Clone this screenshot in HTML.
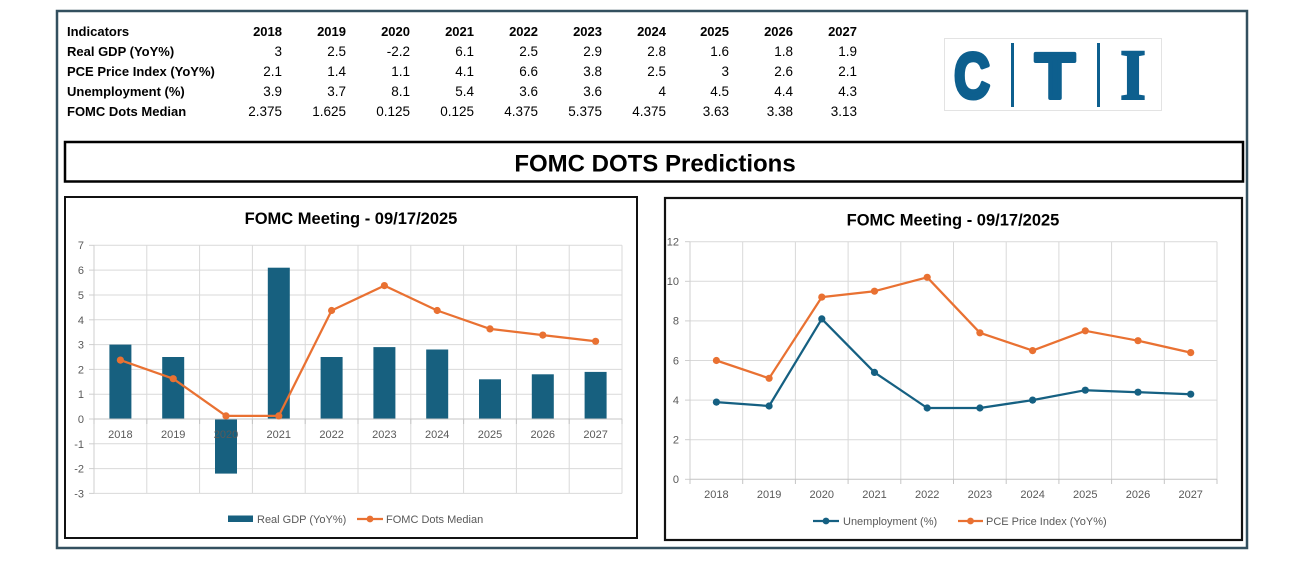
<!DOCTYPE html>
<html>
<head>
<meta charset="utf-8">
<style>
  html,body{margin:0;padding:0;background:#fff;}
  svg{display:block;}
  text{font-family:"Liberation Sans",Arial,sans-serif;}
  .hb{font-weight:bold;font-size:13px;fill:#000;}
  .nv{font-size:13.5px;fill:#000;}
  .ax{font-size:11px;fill:#595959;}
  .lg{font-size:11px;fill:#595959;}
  .tt{font-weight:bold;font-size:16.5px;fill:#000;}
  .grid{stroke:#d9d9d9;stroke-width:1;fill:none;}
</style>
</head>
<body>
<svg width="1310" height="583" viewBox="0 0 1310 583" xmlns="http://www.w3.org/2000/svg">
  <rect x="0" y="0" width="1310" height="583" fill="#fff"/>
  <!-- outer frame -->
  <rect x="57" y="11" width="1190" height="537" fill="none" stroke="#33505f" stroke-width="2.5"/>

  <!-- table -->
  <g>
    <text class="hb" x="67" y="36">Indicators</text>
    <text class="hb" x="67" y="56">Real GDP (YoY%)</text>
    <text class="hb" x="67" y="76">PCE Price Index (YoY%)</text>
    <text class="hb" x="67" y="96">Unemployment (%)</text>
    <text class="hb" x="67" y="116">FOMC Dots Median</text>
    <g text-anchor="end" class="hb">
      <text x="282" y="36">2018</text><text x="346" y="36">2019</text><text x="410" y="36">2020</text><text x="474" y="36">2021</text><text x="538" y="36">2022</text><text x="602" y="36">2023</text><text x="666" y="36">2024</text><text x="729" y="36">2025</text><text x="793" y="36">2026</text><text x="857" y="36">2027</text>
    </g>
    <g text-anchor="end" class="nv">
      <text x="282" y="56">3</text><text x="346" y="56">2.5</text><text x="410" y="56">-2.2</text><text x="474" y="56">6.1</text><text x="538" y="56">2.5</text><text x="602" y="56">2.9</text><text x="666" y="56">2.8</text><text x="729" y="56">1.6</text><text x="793" y="56">1.8</text><text x="857" y="56">1.9</text>
      <text x="282" y="76">2.1</text><text x="346" y="76">1.4</text><text x="410" y="76">1.1</text><text x="474" y="76">4.1</text><text x="538" y="76">6.6</text><text x="602" y="76">3.8</text><text x="666" y="76">2.5</text><text x="729" y="76">3</text><text x="793" y="76">2.6</text><text x="857" y="76">2.1</text>
      <text x="282" y="96">3.9</text><text x="346" y="96">3.7</text><text x="410" y="96">8.1</text><text x="474" y="96">5.4</text><text x="538" y="96">3.6</text><text x="602" y="96">3.6</text><text x="666" y="96">4</text><text x="729" y="96">4.5</text><text x="793" y="96">4.4</text><text x="857" y="96">4.3</text>
      <text x="282" y="116">2.375</text><text x="346" y="116">1.625</text><text x="410" y="116">0.125</text><text x="474" y="116">0.125</text><text x="538" y="116">4.375</text><text x="602" y="116">5.375</text><text x="666" y="116">4.375</text><text x="729" y="116">3.63</text><text x="793" y="116">3.38</text><text x="857" y="116">3.13</text>
    </g>
  </g>

  <!-- logo -->
  <rect x="944.5" y="38.5" width="217" height="72" fill="#fff" stroke="#e3e3e3" stroke-width="1"/>
  <text x="954" y="98" font-size="64" font-weight="bold" fill="#0d5f8e" stroke="#0d5f8e" stroke-width="4" stroke-linejoin="round" textLength="36" lengthAdjust="spacingAndGlyphs">C</text>
  <rect x="1011" y="43" width="3" height="64" fill="#0d5f8e"/>
  <text x="1035" y="98" font-size="64" font-weight="bold" fill="#0d5f8e" stroke="#0d5f8e" stroke-width="4" stroke-linejoin="round" textLength="40" lengthAdjust="spacingAndGlyphs">T</text>
  <rect x="1097" y="43" width="3" height="64" fill="#0d5f8e"/>
  <text x="1120" y="99" font-size="72" font-weight="bold" fill="#0d5f8e" stroke="#0d5f8e" stroke-width="2" style="font-family:'Liberation Serif',serif" textLength="26" lengthAdjust="spacingAndGlyphs">I</text>

  <!-- banner -->
  <rect x="65" y="142" width="1178" height="39.5" fill="#fff" stroke="#000" stroke-width="2.5"/>
  <text x="655" y="171.5" text-anchor="middle" font-size="24" font-weight="bold" fill="#000">FOMC DOTS Predictions</text>

  <!-- chart 1 -->
  <rect x="65" y="197" width="572" height="341" fill="#fff" stroke="#111" stroke-width="2"/>
  <text class="tt" x="351" y="224" text-anchor="middle">FOMC Meeting - 09/17/2025</text>
  <g class="grid">
    <line x1="94" y1="245.3" x2="622" y2="245.3"/>
    <line x1="94" y1="270.1" x2="622" y2="270.1"/>
    <line x1="94" y1="295" x2="622" y2="295"/>
    <line x1="94" y1="319.8" x2="622" y2="319.8"/>
    <line x1="94" y1="344.6" x2="622" y2="344.6"/>
    <line x1="94" y1="369.4" x2="622" y2="369.4"/>
    <line x1="94" y1="394.2" x2="622" y2="394.2"/>
    <line x1="94" y1="443.8" x2="622" y2="443.8"/>
    <line x1="94" y1="468.6" x2="622" y2="468.6"/>
    <line x1="94" y1="493.4" x2="622" y2="493.4"/>
    <line x1="146.8" y1="245.3" x2="146.8" y2="493.4"/>
    <line x1="199.6" y1="245.3" x2="199.6" y2="493.4"/>
    <line x1="252.4" y1="245.3" x2="252.4" y2="493.4"/>
    <line x1="305.2" y1="245.3" x2="305.2" y2="493.4"/>
    <line x1="358" y1="245.3" x2="358" y2="493.4"/>
    <line x1="410.8" y1="245.3" x2="410.8" y2="493.4"/>
    <line x1="463.6" y1="245.3" x2="463.6" y2="493.4"/>
    <line x1="516.4" y1="245.3" x2="516.4" y2="493.4"/>
    <line x1="569.2" y1="245.3" x2="569.2" y2="493.4"/>
    <line x1="622" y1="245.3" x2="622" y2="493.4"/>
  </g>
  <g stroke="#cfcfcf" stroke-width="1">
    <line x1="94" y1="245.3" x2="94" y2="493.4"/>
    <line x1="89" y1="245.3" x2="94" y2="245.3"/><line x1="89" y1="270.1" x2="94" y2="270.1"/><line x1="89" y1="295" x2="94" y2="295"/><line x1="89" y1="319.8" x2="94" y2="319.8"/><line x1="89" y1="344.6" x2="94" y2="344.6"/><line x1="89" y1="369.4" x2="94" y2="369.4"/><line x1="89" y1="394.2" x2="94" y2="394.2"/><line x1="89" y1="419" x2="94" y2="419"/><line x1="89" y1="443.8" x2="94" y2="443.8"/><line x1="89" y1="468.6" x2="94" y2="468.6"/><line x1="89" y1="493.4" x2="94" y2="493.4"/>
  </g>
  <g class="ax" text-anchor="end">
    <text x="84" y="249">7</text><text x="84" y="274">6</text><text x="84" y="299">5</text><text x="84" y="324">4</text><text x="84" y="348.5">3</text><text x="84" y="373.5">2</text><text x="84" y="398">1</text><text x="84" y="423">0</text><text x="84" y="448">-1</text><text x="84" y="472.5">-2</text><text x="84" y="497.5">-3</text>
  </g>
  <g fill="#17607f">
    <rect x="109.4" y="344.6" width="22" height="74.4"/>
    <rect x="162.2" y="357" width="22" height="62"/>
    <rect x="215" y="419" width="22" height="54.6"/>
    <rect x="267.8" y="267.7" width="22" height="151.3"/>
    <rect x="320.6" y="357" width="22" height="62"/>
    <rect x="373.4" y="347.1" width="22" height="71.9"/>
    <rect x="426.2" y="349.5" width="22" height="69.5"/>
    <rect x="479" y="379.3" width="22" height="39.7"/>
    <rect x="531.8" y="374.3" width="22" height="44.7"/>
    <rect x="584.6" y="371.9" width="22" height="47.1"/>
  </g>
  <g stroke="#c4c4c4" stroke-width="1">
    <line x1="94" y1="419" x2="622" y2="419"/>
    <line x1="94" y1="419" x2="94" y2="424"/><line x1="146.8" y1="419" x2="146.8" y2="424"/><line x1="199.6" y1="419" x2="199.6" y2="424"/><line x1="252.4" y1="419" x2="252.4" y2="424"/><line x1="305.2" y1="419" x2="305.2" y2="424"/><line x1="358" y1="419" x2="358" y2="424"/><line x1="410.8" y1="419" x2="410.8" y2="424"/><line x1="463.6" y1="419" x2="463.6" y2="424"/><line x1="516.4" y1="419" x2="516.4" y2="424"/><line x1="569.2" y1="419" x2="569.2" y2="424"/><line x1="622" y1="419" x2="622" y2="424"/>
  </g>
  <g class="ax" text-anchor="middle">
    <text x="120.4" y="438">2018</text><text x="173.2" y="438">2019</text><text x="226" y="438">2020</text><text x="278.8" y="438">2021</text><text x="331.6" y="438">2022</text><text x="384.4" y="438">2023</text><text x="437.2" y="438">2024</text><text x="490" y="438">2025</text><text x="542.8" y="438">2026</text><text x="595.6" y="438">2027</text>
  </g>
  <polyline fill="none" stroke="#e97132" stroke-width="2.25" stroke-linejoin="round" points="120.4,360.1 173.2,378.7 226,415.9 278.8,415.9 331.6,310.5 384.4,285.6 437.2,310.5 490,328.9 542.8,335.1 595.6,341.3"/>
  <g fill="#e97132">
    <circle cx="120.4" cy="360.1" r="3.6"/><circle cx="173.2" cy="378.7" r="3.6"/><circle cx="226" cy="415.9" r="3.6"/><circle cx="278.8" cy="415.9" r="3.6"/><circle cx="331.6" cy="310.5" r="3.6"/><circle cx="384.4" cy="285.6" r="3.6"/><circle cx="437.2" cy="310.5" r="3.6"/><circle cx="490" cy="328.9" r="3.6"/><circle cx="542.8" cy="335.1" r="3.6"/><circle cx="595.6" cy="341.3" r="3.6"/>
  </g>
  <rect x="228" y="515.5" width="25" height="6.5" fill="#17607f"/>
  <text class="lg" x="257" y="523">Real GDP (YoY%)</text>
  <line x1="357" y1="519" x2="383" y2="519" stroke="#e97132" stroke-width="2.25"/>
  <circle cx="370" cy="519" r="3.4" fill="#e97132"/>
  <text class="lg" x="386" y="523">FOMC Dots Median</text>

  <!-- chart 2 -->
  <rect x="665" y="198" width="577" height="342" fill="#fff" stroke="#111" stroke-width="2.2"/>
  <text class="tt" x="953" y="225.5" text-anchor="middle">FOMC Meeting - 09/17/2025</text>
  <g class="grid">
    <line x1="690" y1="241.7" x2="1217" y2="241.7"/>
    <line x1="690" y1="281.3" x2="1217" y2="281.3"/>
    <line x1="690" y1="320.9" x2="1217" y2="320.9"/>
    <line x1="690" y1="360.5" x2="1217" y2="360.5"/>
    <line x1="690" y1="400.1" x2="1217" y2="400.1"/>
    <line x1="690" y1="439.7" x2="1217" y2="439.7"/>
    <line x1="742.7" y1="241.7" x2="742.7" y2="479.3"/>
    <line x1="795.4" y1="241.7" x2="795.4" y2="479.3"/>
    <line x1="848.1" y1="241.7" x2="848.1" y2="479.3"/>
    <line x1="900.8" y1="241.7" x2="900.8" y2="479.3"/>
    <line x1="953.5" y1="241.7" x2="953.5" y2="479.3"/>
    <line x1="1006.2" y1="241.7" x2="1006.2" y2="479.3"/>
    <line x1="1058.9" y1="241.7" x2="1058.9" y2="479.3"/>
    <line x1="1111.6" y1="241.7" x2="1111.6" y2="479.3"/>
    <line x1="1164.3" y1="241.7" x2="1164.3" y2="479.3"/>
    <line x1="1217" y1="241.7" x2="1217" y2="479.3"/>
  </g>
  <g stroke="#cfcfcf" stroke-width="1">
    <line x1="690" y1="241.7" x2="690" y2="479.3"/>
    <line x1="685" y1="241.7" x2="690" y2="241.7"/><line x1="685" y1="281.3" x2="690" y2="281.3"/><line x1="685" y1="320.9" x2="690" y2="320.9"/><line x1="685" y1="360.5" x2="690" y2="360.5"/><line x1="685" y1="400.1" x2="690" y2="400.1"/><line x1="685" y1="439.7" x2="690" y2="439.7"/><line x1="685" y1="479.3" x2="690" y2="479.3"/>
  </g>
  <g stroke="#c4c4c4" stroke-width="1">
    <line x1="690" y1="479.3" x2="1217" y2="479.3"/>
    <line x1="690" y1="479.3" x2="690" y2="484"/><line x1="742.7" y1="479.3" x2="742.7" y2="484"/><line x1="795.4" y1="479.3" x2="795.4" y2="484"/><line x1="848.1" y1="479.3" x2="848.1" y2="484"/><line x1="900.8" y1="479.3" x2="900.8" y2="484"/><line x1="953.5" y1="479.3" x2="953.5" y2="484"/><line x1="1006.2" y1="479.3" x2="1006.2" y2="484"/><line x1="1058.9" y1="479.3" x2="1058.9" y2="484"/><line x1="1111.6" y1="479.3" x2="1111.6" y2="484"/><line x1="1164.3" y1="479.3" x2="1164.3" y2="484"/><line x1="1217" y1="479.3" x2="1217" y2="484"/>
  </g>
  <g class="ax" text-anchor="end">
    <text x="679" y="245.5">12</text><text x="679" y="285">10</text><text x="679" y="324.5">8</text><text x="679" y="364.5">6</text><text x="679" y="404">4</text><text x="679" y="443.5">2</text><text x="679" y="483">0</text>
  </g>
  <g class="ax" text-anchor="middle">
    <text x="716.4" y="498">2018</text><text x="769.1" y="498">2019</text><text x="821.8" y="498">2020</text><text x="874.5" y="498">2021</text><text x="927.2" y="498">2022</text><text x="979.9" y="498">2023</text><text x="1032.6" y="498">2024</text><text x="1085.3" y="498">2025</text><text x="1138" y="498">2026</text><text x="1190.7" y="498">2027</text>
  </g>
  <polyline fill="none" stroke="#156082" stroke-width="2.25" stroke-linejoin="round" points="716.4,402.1 769.1,406 821.8,318.9 874.5,372.4 927.2,408 979.9,408 1032.6,400.1 1085.3,390.2 1138,392.2 1190.7,394.2"/>
  <g fill="#156082">
    <circle cx="716.4" cy="402.1" r="3.6"/><circle cx="769.1" cy="406" r="3.6"/><circle cx="821.8" cy="318.9" r="3.6"/><circle cx="874.5" cy="372.4" r="3.6"/><circle cx="927.2" cy="408" r="3.6"/><circle cx="979.9" cy="408" r="3.6"/><circle cx="1032.6" cy="400.1" r="3.6"/><circle cx="1085.3" cy="390.2" r="3.6"/><circle cx="1138" cy="392.2" r="3.6"/><circle cx="1190.7" cy="394.2" r="3.6"/>
  </g>
  <polyline fill="none" stroke="#e97132" stroke-width="2.25" stroke-linejoin="round" points="716.4,360.5 769.1,378.3 821.8,297.1 874.5,291.2 927.2,277.3 979.9,332.8 1032.6,350.6 1085.3,330.8 1138,340.7 1190.7,352.6"/>
  <g fill="#e97132">
    <circle cx="716.4" cy="360.5" r="3.6"/><circle cx="769.1" cy="378.3" r="3.6"/><circle cx="821.8" cy="297.1" r="3.6"/><circle cx="874.5" cy="291.2" r="3.6"/><circle cx="927.2" cy="277.3" r="3.6"/><circle cx="979.9" cy="332.8" r="3.6"/><circle cx="1032.6" cy="350.6" r="3.6"/><circle cx="1085.3" cy="330.8" r="3.6"/><circle cx="1138" cy="340.7" r="3.6"/><circle cx="1190.7" cy="352.6" r="3.6"/>
  </g>
  <line x1="813" y1="521" x2="839" y2="521" stroke="#156082" stroke-width="2.25"/>
  <circle cx="826" cy="521" r="3.4" fill="#156082"/>
  <text class="lg" x="843" y="525">Unemployment (%)</text>
  <line x1="958" y1="521" x2="983" y2="521" stroke="#e97132" stroke-width="2.25"/>
  <circle cx="970.5" cy="521" r="3.4" fill="#e97132"/>
  <text class="lg" x="986" y="525">PCE Price Index (YoY%)</text>
</svg>
</body>
</html>
